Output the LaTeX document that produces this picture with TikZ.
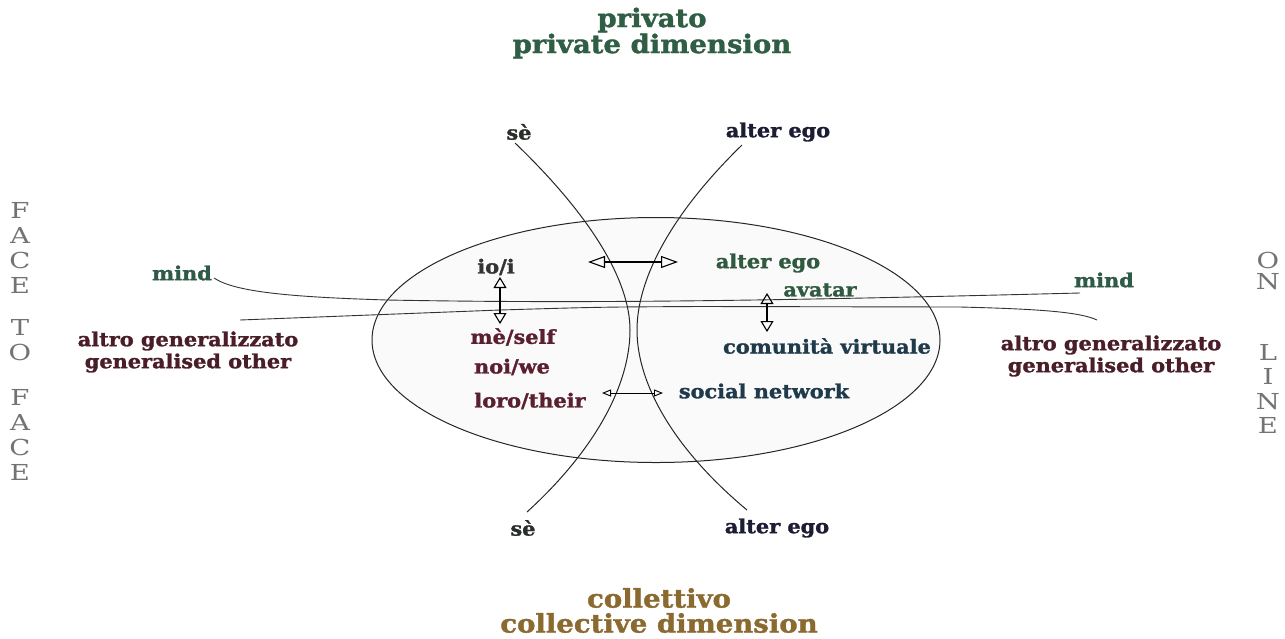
\documentclass[tikz,border=0pt]{standalone}
\usepackage{fontspec}
\setmainfont{DejaVu Serif}
\newfontfamily\heavyfont{DejaVu Serif Bold}[FakeStretch=1.08, FakeBold=1.5]
\newfontfamily\sidefont{DejaVu Serif}[FakeStretch=1.25]
\usetikzlibrary{arrows.meta,shapes.geometric}
\definecolor{cPriv}{HTML}{2F5E45}
\definecolor{cMind}{HTML}{2E5A48}
\definecolor{cAltro}{HTML}{4A1E28}
\definecolor{cDark}{HTML}{2A2E2A}
\definecolor{cNavy}{HTML}{1C1C35}
\definecolor{cIo}{HTML}{333333}
\definecolor{cSelf}{HTML}{5A2030}
\definecolor{cGreen}{HTML}{2F5A40}
\definecolor{cBlue}{HTML}{1F3A4A}
\definecolor{cColl}{HTML}{8B6A30}
\begin{document}
\begin{tikzpicture}[x=1pt,y=-1pt,
  lbl/.style={font=\heavyfont\fontsize{19.3}{22}\selectfont, inner sep=0pt, align=center},
  ttl/.style={font=\heavyfont\fontsize{25.5}{28}\selectfont, inner sep=0pt},
  side/.style={font=\sidefont\fontsize{22}{25}\selectfont, text=black!55, align=center, inner sep=0pt},
  curveline/.style={line width=1pt, draw=black!85},
  thinline/.style={line width=0.9pt, draw=black!80},
  bigarrow/.style={line width=2pt, {Triangle[open,length=17pt,width=12pt,line width=1.1pt]}-{Triangle[open,length=17pt,width=12pt,line width=1.1pt]}},
  midarrow/.style={line width=2pt, {Triangle[open,length=11pt,width=13pt,line width=1.1pt]}-{Triangle[open,length=11pt,width=13pt,line width=1.1pt]}},
  smallarrow/.style={line width=0.9pt, {Triangle[open,length=9pt,width=7pt,line width=0.9pt]}-{Triangle[open,length=9pt,width=7pt,line width=0.9pt]}}
]
\path[use as bounding box] (0,0) rectangle (1285,638);

% ellipse
\node[draw=black!85, line width=1pt, fill=black!2, ellipse, minimum width=568pt, minimum height=245pt, inner sep=0pt] (ell) at (656,340) {};

% titles
\node[ttl,text=cPriv] (priv) at (652,20) {privato};
\node[ttl,text=cPriv] (privd) at (652,46) {private dimension};
\node[ttl,text=cColl] (coll) at (659,598) {collettivo};
\node[ttl,text=cColl] (colld) at (659,623) {collective dimension};

% side texts
\node[side] (ftf1) at (20,248) {F\\A\\C\\E};
\node[side] (ftf2) at (20,340) {T\\O};
\node[side] (ftf3) at (20,435) {F\\A\\C\\E};
\node[side,font=\sidefont\fontsize{22}{21}\selectfont] (on1) at (1268,271) {O\\N};
\node[side,font=\sidefont\fontsize{22}{24.5}\selectfont] (on2) at (1268,389) {L\\I\\N\\E};

% curve labels
\node[lbl,text=cDark] (seT) at (519,132) {sè};
\node[lbl,text=cNavy] (aeT) at (778,132) {alter ego};
\node[lbl,text=cDark] (seB) at (523,528) {sè};
\node[lbl,text=cNavy] (aeB) at (777,528) {alter ego};

% mind / generalised other
\node[lbl,text=cMind] (mindL) at (182,273) {mind};
\node[lbl,text=cMind] (mindR) at (1104,280) {mind};
\node[lbl,text=cAltro] (altroL) at (188,352) {altro generalizzato\\generalised other};
\node[lbl,text=cAltro] (altroR) at (1111,356) {altro generalizzato\\generalised other};

% inner labels
\node[lbl,text=cIo] (io) at (496,267) {io/i};
\node[lbl,text=cSelf] (me) at (513,337) {mè/self};
\node[lbl,text=cSelf] (noi) at (512,367) {noi/we};
\node[lbl,text=cSelf] (loro) at (530,401) {loro/their};
\node[lbl,text=cGreen] (aeI) at (768,263) {alter ego};
\node[lbl,text=cGreen] (avat) at (820,290) {avatar};
\node[lbl,text=cBlue] (com) at (827,346) {comunità virtuale};
\node[lbl,text=cBlue] (soc) at (764,391) {social network};

% coordinates
\coordinate (sT) at (515,143);
\coordinate (sB) at (527,512);
\coordinate (aT) at (742,145);
\coordinate (aB) at (747,510);
\coordinate (m1a) at (214,278);
\coordinate (m1b) at (1080,293);
\coordinate (m2a) at (240,320);
\coordinate (m2b) at (1097,320);
\coordinate (h1a) at (588,262);
\coordinate (h1b) at (678,262);
\coordinate (v1a) at (500,277);
\coordinate (v1b) at (500,324);
\coordinate (v2a) at (767,293);
\coordinate (v2b) at (767,332);
\coordinate (h2a) at (602,393);
\coordinate (h2b) at (663,393);

% hyperbola-like curves
\draw[curveline] (sT) .. controls (590,215) and (630,280) .. (630,330) .. controls (630,385) and (595,450) .. (sB);
\draw[curveline] (aT) .. controls (670,215) and (637,280) .. (637,330) .. controls (637,385) and (675,450) .. (aB);

% mind lines
\draw[thinline] (m1a) .. controls (235,292) and (290,297) .. (387,300) .. controls (600,304) and (800,300) .. (m1b);
\draw[thinline] (m2a) -- (500,310) .. controls (600,307) .. (700,306.5) -- (960,307) .. controls (1040,309) and (1080,312) .. (m2b);

% arrows
\draw[bigarrow] (h1a) -- (h1b);
\draw[midarrow] (v1a) -- (v1b);
\draw[midarrow] (v2a) -- (v2b);
\draw[smallarrow] (h2a) -- (h2b);
\end{tikzpicture}
\end{document}
